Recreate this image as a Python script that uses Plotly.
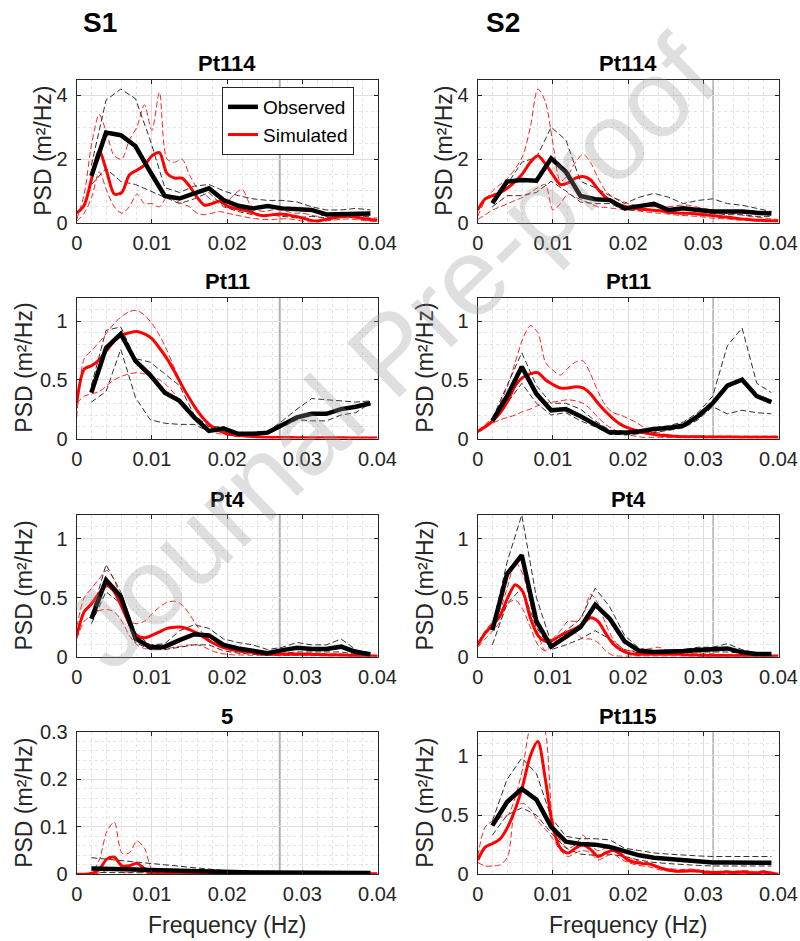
import plotly.graph_objects as go

# ---------------- data ----------------
F_OBS = [0.00195, 0.0039, 0.00586, 0.00781, 0.00977, 0.01172, 0.01367, 0.01563, 0.01758, 0.01953,
         0.02148, 0.02344, 0.02539, 0.02734, 0.0293, 0.03125, 0.0332, 0.03516, 0.03711, 0.03906]
F_SIM = [0.000, 0.001, 0.002, 0.003, 0.004, 0.005, 0.006, 0.007, 0.008, 0.009, 0.010,
         0.011, 0.012, 0.013, 0.014, 0.015, 0.016, 0.017, 0.018, 0.019, 0.020,
         0.021, 0.022, 0.023, 0.024, 0.025, 0.026, 0.027, 0.028, 0.029, 0.030,
         0.031, 0.032, 0.033, 0.034, 0.035, 0.036, 0.037, 0.038, 0.039, 0.040]

PANEL_TITLES = ["Pt114", "Pt114", "Pt11", "Pt11", "Pt4", "Pt4", "5", "Pt115"]
GROUP_TITLES = ["S1", "S2"]
CUTOFF = [0.027, 0.0313]  # vertical reference line, S1 / S2

X_TICKS = [0, 0.01, 0.02, 0.03, 0.04]
X_TICK_TEXT = ["0", "0.01", "0.02", "0.03", "0.04"]
Y_TICKS_A = [0, 2, 4]
Y_TICK_TEXT_A = ["0", "2", "4"]
Y_TICKS_B = [0, 0.5, 1]
Y_TICK_TEXT_B = ["0", "0.5", "1"]
Y_TICKS_C = [0, 0.1, 0.2, 0.3]
Y_TICK_TEXT_C = ["0", "0.1", "0.2", "0.3"]

# --- S1 Pt114
OBS_MEAN_1 = [1.47, 2.83, 2.75, 2.41, 1.60, 0.84, 0.76, 0.92, 1.08, 0.71, 0.53, 0.45, 0.52, 0.45, 0.42, 0.40, 0.26, 0.27, 0.29, 0.29]
OBS_UP_1 = [1.80, 3.85, 4.20, 3.90, 2.60, 1.10, 0.95, 1.15, 1.20, 1.00, 0.85, 0.75, 0.70, 0.70, 0.65, 0.50, 0.40, 0.40, 0.45, 0.40]
OBS_LO_1 = [1.20, 1.70, 1.30, 1.20, 1.00, 0.80, 0.60, 0.75, 0.95, 0.50, 0.35, 0.25, 0.25, 0.20, 0.15, 0.20, 0.15, 0.20, 0.20, 0.20]
SIM_MEAN_1 = [0.30, 0.55, 1.40, 2.25, 1.60, 0.90, 0.95, 1.50, 1.65, 1.80, 2.10, 2.20, 1.55, 1.40, 1.40, 1.15, 0.80, 0.55, 0.60, 0.68,
              0.52, 0.45, 0.40, 0.35, 0.26, 0.22, 0.25, 0.27, 0.25, 0.20, 0.15, 0.08, 0.05, 0.10, 0.15, 0.18, 0.20, 0.18, 0.13, 0.10, 0.08]
SIM_UP_1 = [0.10, 0.90, 2.50, 3.40, 2.80, 2.10, 2.00, 2.60, 3.00, 3.70, 2.90, 4.10, 2.00, 1.90, 2.00, 1.50, 1.10, 0.90, 0.70, 0.60,
            0.65, 0.90, 1.05, 0.60, 0.40, 0.35, 0.40, 0.40, 0.35, 0.30, 0.30, 0.25, 0.20, 0.25, 0.30, 0.25, 0.25, 0.25, 0.20, 0.15, 0.15]
SIM_LO_1 = [0.05, 0.30, 0.80, 1.60, 1.00, 0.50, 0.30, 0.50, 0.90, 0.60, 0.60, 0.50, 0.80, 0.70, 0.60, 0.50, 0.30, 0.25, 0.30, 0.35,
            0.30, 0.25, 0.20, 0.15, 0.12, 0.10, 0.10, 0.12, 0.12, 0.10, 0.05, 0.02, 0.02, 0.05, 0.08, 0.10, 0.12, 0.10, 0.07, 0.05, 0.03]

# --- S2 Pt114
OBS_MEAN_2 = [0.61, 1.29, 1.34, 1.32, 2.02, 1.60, 0.84, 0.74, 0.71, 0.45, 0.52, 0.59, 0.40, 0.45, 0.40, 0.35, 0.35, 0.35, 0.31, 0.29]
OBS_UP_2 = [0.70, 1.20, 1.90, 2.05, 3.00, 2.60, 1.30, 1.10, 0.85, 0.60, 0.80, 0.92, 0.80, 0.60, 0.70, 0.75, 0.60, 0.55, 0.45, 0.35]
OBS_LO_2 = [0.50, 0.85, 0.85, 0.95, 1.30, 1.00, 0.65, 0.60, 0.60, 0.40, 0.40, 0.40, 0.30, 0.30, 0.25, 0.30, 0.25, 0.25, 0.20, 0.20]
SIM_MEAN_2 = [0.40, 0.75, 0.85, 0.95, 1.10, 1.30, 1.55, 1.90, 2.10, 1.85, 1.50, 1.20, 1.25, 1.40, 1.45, 1.35, 1.05, 0.80, 0.65, 0.55,
              0.48, 0.45, 0.42, 0.40, 0.38, 0.35, 0.32, 0.30, 0.30, 0.28, 0.25, 0.23, 0.20, 0.18, 0.15, 0.12, 0.10, 0.08, 0.07, 0.06, 0.05]
SIM_UP_2 = [0.20, 0.70, 1.00, 1.20, 1.40, 1.70, 2.10, 3.00, 4.20, 3.80, 2.50, 1.30, 1.50, 1.90, 2.15, 1.90, 1.40, 1.00, 0.80, 0.70,
            0.60, 0.55, 0.52, 0.50, 0.50, 0.50, 0.52, 0.55, 0.55, 0.50, 0.45, 0.40, 0.35, 0.30, 0.28, 0.25, 0.20, 0.18, 0.15, 0.12, 0.10]
SIM_LO_2 = [0.10, 0.25, 0.40, 0.50, 0.60, 0.70, 0.80, 0.95, 1.10, 1.20, 0.40, 0.60, 0.90, 0.80, 0.70, 0.60, 0.50, 0.48, 0.45, 0.42,
            0.40, 0.38, 0.35, 0.32, 0.30, 0.28, 0.25, 0.23, 0.22, 0.20, 0.18, 0.15, 0.13, 0.12, 0.10, 0.08, 0.07, 0.06, 0.05, 0.05, 0.05]

# --- S1 Pt11
OBS_MEAN_3 = [0.39, 0.77, 0.89, 0.66, 0.54, 0.39, 0.32, 0.18, 0.065, 0.085, 0.04, 0.04, 0.05, 0.11, 0.18, 0.21, 0.21, 0.25, 0.27, 0.30]
OBS_UP_3 = [0.45, 0.92, 0.95, 0.68, 0.65, 0.55, 0.45, 0.20, 0.10, 0.10, 0.05, 0.05, 0.06, 0.15, 0.25, 0.34, 0.33, 0.32, 0.31, 0.32]
OBS_LO_3 = [0.31, 0.40, 0.76, 0.35, 0.16, 0.13, 0.12, 0.12, 0.06, 0.07, 0.03, 0.03, 0.04, 0.10, 0.16, 0.15, 0.15, 0.20, 0.22, 0.30]
SIM_MEAN_3 = [0.30, 0.59, 0.62, 0.67, 0.75, 0.83, 0.88, 0.90, 0.91, 0.89, 0.85, 0.77, 0.68, 0.57, 0.45, 0.34, 0.24, 0.16, 0.10, 0.065,
              0.04, 0.03, 0.025, 0.02, 0.015, 0.01, 0.008, 0.008, 0.008, 0.007, 0.007, 0.007, 0.006, 0.006, 0.006, 0.006, 0.005, 0.005, 0.005, 0.005, 0.005]
SIM_UP_3 = [0.18, 0.68, 0.75, 0.82, 0.90, 0.98, 1.04, 1.08, 1.09, 1.05, 0.98, 0.88, 0.75, 0.60, 0.46, 0.34, 0.24, 0.16, 0.11, 0.08,
            0.06, 0.04, 0.03, 0.02, 0.015, 0.01, 0.01, 0.01, 0.01, 0.01, 0.01, 0.01, 0.01, 0.01, 0.01, 0.01, 0.01, 0.01, 0.01, 0.01, 0.01]
SIM_LO_3 = [0.30, 0.36, 0.38, 0.40, 0.45, 0.50, 0.53, 0.55, 0.56, 0.55, 0.53, 0.50, 0.45, 0.38, 0.30, 0.22, 0.15, 0.10, 0.06, 0.04,
            0.03, 0.02, 0.015, 0.01, 0.005, 0.005, 0.005, 0.005, 0.005, 0.005, 0.005, 0.005, 0.005, 0.005, 0.005, 0.005, 0.005, 0.005, 0.005, 0.005, 0.005]

# --- S2 Pt11
OBS_MEAN_4 = [0.15, 0.36, 0.61, 0.38, 0.24, 0.25, 0.19, 0.12, 0.05, 0.05, 0.06, 0.08, 0.09, 0.11, 0.19, 0.30, 0.45, 0.50, 0.36, 0.31]
OBS_UP_4 = [0.17, 0.45, 0.73, 0.45, 0.30, 0.30, 0.25, 0.15, 0.07, 0.06, 0.07, 0.09, 0.11, 0.14, 0.22, 0.36, 0.79, 0.94, 0.47, 0.39]
OBS_LO_4 = [0.13, 0.30, 0.47, 0.30, 0.20, 0.22, 0.15, 0.10, 0.04, 0.03, 0.04, 0.05, 0.07, 0.09, 0.16, 0.27, 0.21, 0.24, 0.22, 0.21]
SIM_MEAN_4 = [0.06, 0.10, 0.15, 0.22, 0.32, 0.45, 0.52, 0.55, 0.56, 0.50, 0.46, 0.43, 0.43, 0.44, 0.43, 0.38, 0.30, 0.23, 0.17, 0.12,
              0.09, 0.07, 0.05, 0.04, 0.03, 0.025, 0.02, 0.015, 0.015, 0.015, 0.015, 0.012, 0.012, 0.012, 0.012, 0.01, 0.01, 0.01, 0.01, 0.01, 0.01]
SIM_UP_4 = [0.06, 0.12, 0.18, 0.30, 0.45, 0.65, 0.85, 0.96, 0.90, 0.65, 0.58, 0.54, 0.60, 0.65, 0.66, 0.55, 0.40, 0.28, 0.22, 0.20,
            0.17, 0.14, 0.10, 0.07, 0.05, 0.035, 0.025, 0.02, 0.02, 0.02, 0.02, 0.02, 0.02, 0.02, 0.02, 0.02, 0.02, 0.02, 0.02, 0.02, 0.02]
SIM_LO_4 = [0.05, 0.09, 0.13, 0.16, 0.18, 0.20, 0.23, 0.25, 0.28, 0.30, 0.31, 0.32, 0.33, 0.32, 0.30, 0.25, 0.18, 0.12, 0.08, 0.05,
            0.03, 0.02, 0.01, 0.01, 0.01, 0.008, 0.008, 0.006, 0.006, 0.005, 0.005, 0.005, 0.005, 0.005, 0.005, 0.005, 0.005, 0.005, 0.005, 0.005, 0.005]

# --- S1 Pt4
OBS_MEAN_5 = [0.32, 0.65, 0.51, 0.155, 0.08, 0.085, 0.14, 0.19, 0.18, 0.10, 0.07, 0.048, 0.03, 0.056, 0.076, 0.065, 0.065, 0.085, 0.04, 0.02]
OBS_UP_5 = [0.35, 0.78, 0.55, 0.20, 0.10, 0.11, 0.22, 0.27, 0.24, 0.15, 0.12, 0.10, 0.06, 0.08, 0.12, 0.10, 0.10, 0.15, 0.06, 0.03]
OBS_LO_5 = [0.28, 0.55, 0.45, 0.12, 0.06, 0.06, 0.08, 0.10, 0.10, 0.05, 0.03, 0.02, 0.01, 0.03, 0.04, 0.04, 0.04, 0.04, 0.02, 0.01]
SIM_MEAN_5 = [0.18, 0.38, 0.45, 0.54, 0.60, 0.55, 0.42, 0.28, 0.18, 0.16, 0.18, 0.21, 0.24, 0.25, 0.25, 0.23, 0.20, 0.16, 0.12, 0.09,
              0.07, 0.055, 0.045, 0.04, 0.03, 0.025, 0.02, 0.02, 0.02, 0.02, 0.02, 0.02, 0.018, 0.016, 0.015, 0.015, 0.012, 0.01, 0.008, 0.006, 0.005]
SIM_UP_5 = [0.25, 0.50, 0.58, 0.66, 0.73, 0.65, 0.45, 0.30, 0.28, 0.30, 0.36, 0.42, 0.46, 0.47, 0.44, 0.36, 0.26, 0.18, 0.13, 0.10,
            0.08, 0.06, 0.05, 0.045, 0.04, 0.035, 0.03, 0.03, 0.03, 0.03, 0.03, 0.03, 0.025, 0.025, 0.025, 0.025, 0.02, 0.02, 0.015, 0.012, 0.01]
SIM_LO_5 = [0.15, 0.30, 0.35, 0.39, 0.40, 0.38, 0.30, 0.18, 0.10, 0.07, 0.06, 0.06, 0.07, 0.08, 0.09, 0.10, 0.10, 0.08, 0.05, 0.03,
            0.02, 0.015, 0.015, 0.012, 0.012, 0.01, 0.01, 0.01, 0.01, 0.01, 0.01, 0.008, 0.008, 0.008, 0.007, 0.007, 0.006, 0.006, 0.005, 0.005, 0.005]

# --- S2 Pt4
OBS_MEAN_6 = [0.225, 0.70, 0.86, 0.30, 0.085, 0.17, 0.25, 0.44, 0.32, 0.13, 0.05, 0.04, 0.04, 0.048, 0.056, 0.062, 0.07, 0.037, 0.022, 0.022]
OBS_UP_6 = [0.25, 0.80, 1.20, 0.50, 0.12, 0.22, 0.32, 0.58, 0.42, 0.18, 0.07, 0.05, 0.05, 0.06, 0.08, 0.08, 0.11, 0.06, 0.03, 0.03]
OBS_LO_6 = [0.10, 0.45, 0.58, 0.25, 0.06, 0.10, 0.15, 0.22, 0.15, 0.06, 0.03, 0.03, 0.03, 0.03, 0.04, 0.04, 0.04, 0.03, 0.02, 0.02]
SIM_MEAN_6 = [0.10, 0.20, 0.27, 0.35, 0.50, 0.61, 0.55, 0.33, 0.18, 0.13, 0.14, 0.18, 0.21, 0.24, 0.28, 0.33, 0.30, 0.20, 0.11, 0.06,
              0.03, 0.02, 0.02, 0.02, 0.02, 0.02, 0.02, 0.02, 0.015, 0.015, 0.01, 0.01, 0.01, 0.01, 0.008, 0.008, 0.007, 0.006, 0.006, 0.005, 0.005]
SIM_UP_6 = [0.12, 0.22, 0.30, 0.40, 0.60, 0.80, 0.70, 0.45, 0.20, 0.05, 0.15, 0.22, 0.30, 0.30, 0.35, 0.53, 0.45, 0.28, 0.15, 0.08,
            0.05, 0.05, 0.06, 0.07, 0.08, 0.06, 0.05, 0.04, 0.03, 0.03, 0.03, 0.025, 0.02, 0.02, 0.02, 0.02, 0.015, 0.015, 0.01, 0.01, 0.01]
SIM_LO_6 = [0.08, 0.15, 0.22, 0.30, 0.45, 0.48, 0.40, 0.25, 0.10, 0.05, 0.10, 0.13, 0.16, 0.20, 0.15, 0.15, 0.12, 0.05, 0.01, 0.005,
            0.005, 0.005, 0.005, 0.005, 0.005, 0.005, 0.005, 0.005, 0.005, 0.005, 0.005, 0.005, 0.005, 0.005, 0.005, 0.005, 0.005, 0.005, 0.005, 0.005, 0.005]

# --- S1 "5"
OBS_MEAN_7 = [0.012, 0.012, 0.011, 0.010, 0.009, 0.008, 0.007, 0.006, 0.006, 0.005, 0.005, 0.004, 0.004, 0.004, 0.003, 0.003, 0.003, 0.003, 0.003, 0.003]
OBS_UP_7 = [0.035, 0.032, 0.029, 0.026, 0.022, 0.019, 0.016, 0.013, 0.010, 0.008, 0.007, 0.006, 0.006, 0.006, 0.005, 0.005, 0.005, 0.005, 0.005, 0.005]
OBS_LO_7 = [0.004, 0.004, 0.003, 0.003, 0.003, 0.002, 0.002, 0.002, 0.002, 0.002, 0.002, 0.002, 0.001, 0.001, 0.001, 0.001, 0.001, 0.001, 0.001, 0.001]
SIM_MEAN_7 = [0.0, 0.0, 0.002, 0.010, 0.032, 0.036, 0.018, 0.018, 0.023, 0.012, 0.002, 0.001, 0.001, 0.001, 0.001, 0.001, 0.001, 0.001, 0.001, 0.001,
              0.001, 0.001, 0.001, 0.001, 0.001, 0.001, 0.001, 0.001, 0.001, 0.001, 0.001, 0.001, 0.001, 0.001, 0.001, 0.001, 0.001, 0.001, 0.001, 0.001, 0.001]
SIM_UP_7 = [0.0, 0.0, 0.005, 0.030, 0.090, 0.110, 0.045, 0.045, 0.070, 0.055, 0.010, 0.002, 0.002, 0.002, 0.002, 0.002, 0.002, 0.002, 0.002, 0.002,
            0.002, 0.002, 0.002, 0.002, 0.002, 0.002, 0.002, 0.002, 0.002, 0.002, 0.002, 0.002, 0.002, 0.002, 0.002, 0.002, 0.002, 0.002, 0.002, 0.002, 0.002]
SIM_LO_7 = [0.0, 0.0, 0.0, 0.003, 0.008, 0.010, 0.004, 0.003, 0.006, 0.003, 0.0, 0.0, 0.0, 0.0, 0.0, 0.0, 0.0, 0.0, 0.0, 0.0,
            0.0, 0.0, 0.0, 0.0, 0.0, 0.0, 0.0, 0.0, 0.0, 0.0, 0.0, 0.0, 0.0, 0.0, 0.0, 0.0, 0.0, 0.0, 0.0, 0.0, 0.0]

# --- S2 Pt115
OBS_MEAN_8 = [0.41, 0.61, 0.72, 0.63, 0.40, 0.275, 0.255, 0.25, 0.23, 0.19, 0.16, 0.14, 0.13, 0.115, 0.107, 0.10, 0.10, 0.10, 0.10, 0.098]
OBS_UP_8 = [0.45, 0.80, 0.98, 0.85, 0.48, 0.32, 0.30, 0.30, 0.29, 0.22, 0.20, 0.18, 0.17, 0.16, 0.155, 0.15, 0.15, 0.15, 0.15, 0.15]
OBS_LO_8 = [0.33, 0.50, 0.56, 0.50, 0.35, 0.22, 0.17, 0.16, 0.17, 0.15, 0.12, 0.10, 0.09, 0.08, 0.075, 0.07, 0.07, 0.07, 0.07, 0.07]
SIM_MEAN_8 = [0.12, 0.23, 0.26, 0.30, 0.40, 0.55, 0.75, 1.00, 1.12, 0.80, 0.40, 0.22, 0.18, 0.22, 0.25, 0.21, 0.15, 0.18, 0.20, 0.17,
              0.12, 0.10, 0.09, 0.085, 0.06, 0.04, 0.03, 0.025, 0.03, 0.03, 0.02, 0.015, 0.015, 0.02, 0.015, 0.02, 0.015, 0.01, 0.02, 0.01, 0.0]
SIM_UP_8 = [0.15, 0.40, 0.45, 0.48, 0.50, 0.65, 0.90, 1.25, 1.35, 1.20, 0.45, 0.28, 0.22, 0.25, 0.33, 0.25, 0.20, 0.22, 0.20, 0.16,
            0.14, 0.12, 0.10, 0.09, 0.07, 0.05, 0.045, 0.04, 0.045, 0.04, 0.03, 0.025, 0.025, 0.03, 0.025, 0.03, 0.03, 0.02, 0.03, 0.02, 0.01]
SIM_LO_8 = [0.10, 0.07, 0.07, 0.08, 0.15, 0.55, 0.60, 0.55, 0.45, 0.38, 0.30, 0.20, 0.15, 0.18, 0.20, 0.18, 0.12, 0.15, 0.17, 0.13,
            0.10, 0.08, 0.07, 0.06, 0.04, 0.03, 0.02, 0.02, 0.02, 0.02, 0.01, 0.01, 0.01, 0.01, 0.01, 0.01, 0.01, 0.01, 0.005, 0.005, 0.0]

PANELS = [
    (OBS_MEAN_1, OBS_UP_1, OBS_LO_1, SIM_MEAN_1, SIM_UP_1, SIM_LO_1),
    (OBS_MEAN_2, OBS_UP_2, OBS_LO_2, SIM_MEAN_2, SIM_UP_2, SIM_LO_2),
    (OBS_MEAN_3, OBS_UP_3, OBS_LO_3, SIM_MEAN_3, SIM_UP_3, SIM_LO_3),
    (OBS_MEAN_4, OBS_UP_4, OBS_LO_4, SIM_MEAN_4, SIM_UP_4, SIM_LO_4),
    (OBS_MEAN_5, OBS_UP_5, OBS_LO_5, SIM_MEAN_5, SIM_UP_5, SIM_LO_5),
    (OBS_MEAN_6, OBS_UP_6, OBS_LO_6, SIM_MEAN_6, SIM_UP_6, SIM_LO_6),
    (OBS_MEAN_7, OBS_UP_7, OBS_LO_7, SIM_MEAN_7, SIM_UP_7, SIM_LO_7),
    (OBS_MEAN_8, OBS_UP_8, OBS_LO_8, SIM_MEAN_8, SIM_UP_8, SIM_LO_8),
]

# ---------------- layout geometry (pixels) ----------------
W, H = 800, 941
COLS_PX = [(76.7, 377.5), (477.7, 778.5)]
ROWS_PX = [(79.5, 222.7), (297.5, 438.5), (515.0, 656.7), (732.0, 874.3)]
FONT = "Liberation Sans, Arial, sans-serif"
TXT = "#262626"

def px_x(v):
    return v / W

def px_y(v):
    return 1 - v / H

fig = go.Figure()
layout = dict(
    width=W, height=H, margin=dict(l=0, r=0, t=0, b=0, pad=0, autoexpand=False),
    paper_bgcolor="white", plot_bgcolor="white",
    font=dict(family=FONT, color=TXT, size=20),
    showlegend=True,
    legend=dict(x=px_x(222), y=px_y(87), xanchor="left", yanchor="top",
                bgcolor="white", bordercolor=TXT, borderwidth=1,
                font=dict(size=19, color="black", family=FONT), tracegroupgap=0),
)
annotations = []
shapes = []

for i, data in enumerate(PANELS):
    r, c = divmod(i, 2)
    n = i + 1
    xa = "x" if n == 1 else f"x{n}"
    ya = "y" if n == 1 else f"y{n}"
    obs_m, obs_u, obs_l, sim_m, sim_u, sim_l = data
    first = (i == 0)

    for yy in (sim_u, sim_l):
        fig.add_trace(go.Scatter(x=F_SIM, y=yy, mode="lines", xaxis=xa, yaxis=ya,
                                 line=dict(color="#ff2020", width=1, dash="6px,3px", shape="spline", smoothing=0.8),
                                 showlegend=False, hoverinfo="skip"))
    for yy in (obs_u, obs_l):
        fig.add_trace(go.Scatter(x=F_OBS, y=yy, mode="lines", xaxis=xa, yaxis=ya,
                                 line=dict(color="#303030", width=1, dash="6px,3px"),
                                 showlegend=False, hoverinfo="skip"))
    fig.add_trace(go.Scatter(x=F_SIM, y=sim_m, mode="lines", xaxis=xa, yaxis=ya, name="Simulated",
                             line=dict(color="#ff0000", width=3, shape="spline", smoothing=0.8),
                             showlegend=first, legendrank=2))
    fig.add_trace(go.Scatter(x=F_OBS, y=obs_m, mode="lines", xaxis=xa, yaxis=ya, name="Observed",
                             line=dict(color="#000000", width=4.5),
                             showlegend=first, legendrank=1))

    x0, x1 = COLS_PX[c]
    t, b = ROWS_PX[r]
    if r == 0:
        yr, tv, tt, mdt = [0, 4.5], Y_TICKS_A, Y_TICK_TEXT_A, 0.5
    elif r == 3 and c == 0:
        yr, tv, tt, mdt = [0, 0.3], Y_TICKS_C, Y_TICK_TEXT_C, 0.02
    else:
        yr, tv, tt, mdt = [0, 1.2], Y_TICKS_B, Y_TICK_TEXT_B, 0.1

    common = dict(showline=True, linecolor=TXT, linewidth=1, mirror="ticks",
                  ticks="inside", ticklen=4, tickcolor=TXT, tickwidth=1,
                  showgrid=True, gridcolor="#dedede", gridwidth=1, zeroline=False,
                  automargin=False,
                  tickfont=dict(size=20, color=TXT, family=FONT), layer="above traces")
    layout["xaxis" if n == 1 else f"xaxis{n}"] = dict(
        domain=[px_x(x0), px_x(x1)], anchor=ya, range=[0, 0.04],
        tickmode="array", tickvals=X_TICKS, ticktext=X_TICK_TEXT,
        minor=dict(tickmode="linear", tick0=0, dtick=0.002, showgrid=True, gridcolor="#e4e4e4",
                   griddash="dot", gridwidth=1, ticks=""),
        ticklabelstandoff=2,
        **common)
    layout["yaxis" if n == 1 else f"yaxis{n}"] = dict(
        domain=[px_y(b), px_y(t)], anchor=xa, range=yr,
        tickmode="array", tickvals=tv, ticktext=tt,
        minor=dict(tickmode="linear", tick0=0, dtick=mdt, showgrid=True, gridcolor="#e4e4e4",
                   griddash="dot", gridwidth=1, ticks=""),
        ticklabelstandoff=4,
        **common)

    # cutoff reference line
    shapes.append(dict(type="line", xref=xa, yref=f"{ya} domain", x0=CUTOFF[c], x1=CUTOFF[c], y0=0, y1=1,
                       line=dict(color="#b0b0b0" if c == 0 else "#9a9a9a", width=2 if c == 0 else 1.2),
                       layer="below"))

    # panel title
    annotations.append(dict(text=f"<b>{PANEL_TITLES[i]}</b>", x=px_x((x0 + x1) / 2), y=px_y(t - 16),
                            xref="paper", yref="paper", xanchor="center", yanchor="middle",
                            showarrow=False, font=dict(size=22, color="black", family=FONT)))
    # y axis label
    lab_off = 34 if r == 0 else 53
    annotations.append(dict(text="PSD (m²/Hz)", x=px_x(x0 - lab_off), y=px_y((t + b) / 2),
                            xref="paper", yref="paper", xanchor="center", yanchor="middle",
                            textangle=-90, showarrow=False, font=dict(size=23, color=TXT, family=FONT)))
    if r == 3:
        annotations.append(dict(text="Frequency (Hz)", x=px_x((x0 + x1) / 2), y=px_y(925),
                                xref="paper", yref="paper", xanchor="center", yanchor="middle",
                                showarrow=False, font=dict(size=23, color=TXT, family=FONT)))

for c, g in enumerate(GROUP_TITLES):
    annotations.append(dict(text=f"<b>{g}</b>", x=px_x([100, 503][c]), y=px_y(22),
                            xref="paper", yref="paper", xanchor="center", yanchor="middle",
                            showarrow=False, font=dict(size=28, color="black", family=FONT)))

# watermark
annotations.append(dict(text="Journal Pre-proof", x=px_x(390), y=px_y(352), xref="paper", yref="paper",
                        xanchor="center", yanchor="middle", textangle=-44, showarrow=False,
                        font=dict(size=110, color="rgba(150,150,150,0.30)", family=FONT)))

layout["annotations"] = annotations
layout["shapes"] = shapes
fig.update_layout(**layout)
fig.write_html("out.html", config={"displayModeBar": False},
               post_script="document.body.style.margin='0';")
